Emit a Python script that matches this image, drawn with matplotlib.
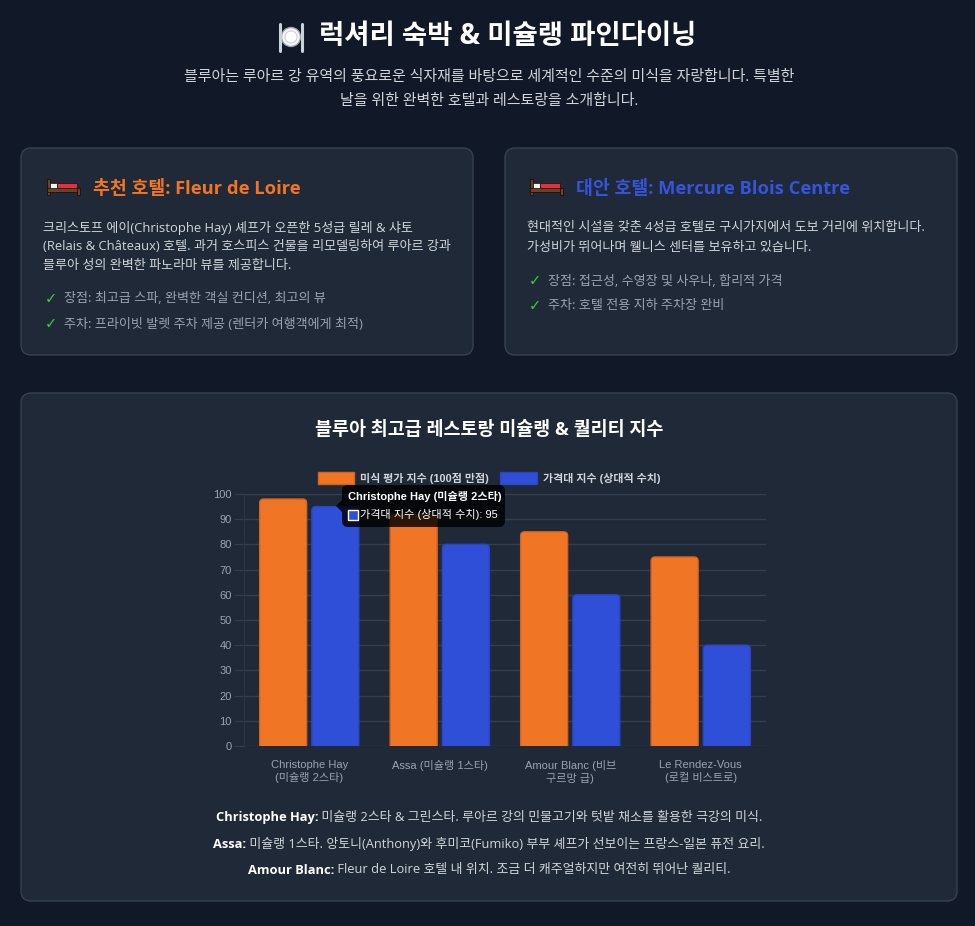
import matplotlib
matplotlib.use("Agg")
import matplotlib.pyplot as plt
from matplotlib.patches import FancyBboxPatch, Rectangle, Circle, Polygon
import numpy as np

# ---------------- data ----------------
restaurants = ["Christophe Hay\n(미슐랭 2스타)", "Assa (미슐랭 1스타)",
               "Amour Blanc (비브\n구르망 급)", "Le Rendez-Vous\n(로컬 비스트로)"]
series_names = ["미식 평가 지수 (100점 만점)", "가격대 지수 (상대적 수치)"]
gastronomy_index = [98, 92, 85, 75]
price_index = [95, 80, 60, 40]
y_ticks = [0, 10, 20, 30, 40, 50, 60, 70, 80, 90, 100]

page_title = "럭셔리 숙박 & 미슐랭 파인다이닝"
page_subtitle = ["블루아는 루아르 강 유역의 풍요로운 식자재를 바탕으로 세계적인 수준의 미식을 자랑합니다. 특별한",
                 "날을 위한 완벽한 호텔과 레스토랑을 소개합니다."]
hotel1_title = "추천 호텔: Fleur de Loire"
hotel1_body = ["크리스토프 에이(Christophe Hay) 셰프가 오픈한 5성급 릴레 & 샤토",
               "(Relais & Châteaux) 호텔. 과거 호스피스 건물을 리모델링하여 루아르 강과",
               "블루아 성의 완벽한 파노라마 뷰를 제공합니다."]
hotel1_items = ["장점: 최고급 스파, 완벽한 객실 컨디션, 최고의 뷰",
                "주차: 프라이빗 발렛 주차 제공 (렌터카 여행객에게 최적)"]
hotel2_title = "대안 호텔: Mercure Blois Centre"
hotel2_body = ["현대적인 시설을 갖춘 4성급 호텔로 구시가지에서 도보 거리에 위치합니다.",
               "가성비가 뛰어나며 웰니스 센터를 보유하고 있습니다."]
hotel2_items = ["장점: 접근성, 수영장 및 사우나, 합리적 가격",
                "주차: 호텔 전용 지하 주차장 완비"]
chart_title = "블루아 최고급 레스토랑 미슐랭 & 퀄리티 지수"
tooltip_title = "Christophe Hay (미슐랭 2스타)"
notes = [("Christophe Hay:", " 미슐랭 2스타 & 그린스타. 루아르 강의 민물고기와 텃밭 채소를 활용한 극강의 미식."),
         ("Assa:", " 미슐랭 1스타. 앙토니(Anthony)와 후미코(Fumiko) 부부 셰프가 선보이는 프랑스-일본 퓨전 요리."),
         ("Amour Blanc:", " Fleur de Loire 호텔 내 위치. 조금 더 캐주얼하지만 여전히 뛰어난 퀄리티.")]

# ---------------- style ----------------
BG = "#111827"
CARD = "#1f2937"
CARD_EDGE = "#374151"
ORANGE = "#f07626"
ORANGE_EDGE = "#d8641c"
BLUE = "#2f4fd8"
BLUE_EDGE = "#2a46c4"
KR = ["Open Sans", "Noto Sans CJK KR", "DejaVu Sans"]
AR = ["Liberation Sans", "Noto Sans CJK KR", "DejaVu Sans"]

W, H = 975, 926
fig = plt.figure(figsize=(W / 100, H / 100), dpi=100, facecolor=BG)

bg = fig.add_axes([0, 0, 1, 1], zorder=0)
bg.set_xlim(0, W); bg.set_ylim(H, 0); bg.axis("off")
bg.set_facecolor(BG)


def card(ax, x0, y0, x1, y1):
    ax.add_patch(FancyBboxPatch((x0, y0), x1 - x0, y1 - y0,
                                boxstyle="round,pad=0,rounding_size=10",
                                facecolor=CARD, edgecolor=CARD_EDGE, linewidth=1))


def bed(ax, x, y):
    # simple bed icon, x,y = left-top
    ax.add_patch(Rectangle((x, y - 4), 3, 16, facecolor="#6b4226", edgecolor="#1a0f08", lw=0.6))
    ax.add_patch(Rectangle((x, y + 5), 33, 4, facecolor="#6b4226", edgecolor="#1a0f08", lw=0.6))
    ax.add_patch(Rectangle((x + 30, y + 5), 3, 7, facecolor="#6b4226", edgecolor="#1a0f08", lw=0.6))
    ax.add_patch(Rectangle((x + 3, y), 7, 5, facecolor="#f3f3f3", edgecolor="#1a0f08", lw=0.5))
    ax.add_patch(Rectangle((x + 10, y), 20, 5, facecolor="#e0323c", edgecolor="#1a0f08", lw=0.5))


# ---- header ----
bg.add_patch(Circle((291, 37), 9.5, facecolor="#f5f5f5", edgecolor="#9aa3ad", lw=1.0))
bg.add_patch(Circle((291, 37), 6, facecolor="#ffffff", edgecolor="#d0d4d8", lw=0.8))
bg.plot([280, 280], [24, 51], color="#c9d1d9", lw=2.2, solid_capstyle="round")
bg.plot([302, 302], [24, 51], color="#c9d1d9", lw=2.2, solid_capstyle="round")
bg.text(319, 37, page_title, fontsize=19.8, fontweight="bold", color="white",
        family=KR, ha="left", va="center")
bg.text(489, 78, page_subtitle[0], fontsize=10.8, color="#d1d5db", family=KR, ha="center", va="center")
bg.text(489, 101, page_subtitle[1], fontsize=10.8, color="#d1d5db", family=KR, ha="center", va="center")

# ---- hotel cards ----
card(bg, 21, 148, 473, 355)
card(bg, 505, 148, 957, 355)
bed(bg, 47, 183)
bed(bg, 530, 183)
bg.text(93, 189, hotel1_title, fontsize=13.2, fontweight="bold", color="#f07626", family=KR,
        ha="left", va="center")
bg.text(576, 189, hotel2_title, fontsize=13.2, fontweight="bold", color="#3554d9", family=KR,
        ha="left", va="center")
for i, line in enumerate(hotel1_body):
    bg.text(43, 228 + i * 19, line, fontsize=9.4, color="#d1d5db", family=KR, ha="left", va="center")
for i, line in enumerate(hotel1_items):
    bg.text(45, 299 + i * 25, "✓", fontsize=10.5, color="#3cc93c", family=["DejaVu Sans"],
            ha="left", va="center", fontweight="bold")
    bg.text(64, 299 + i * 25, line, fontsize=9.4, color="#9ca3af", family=KR, ha="left", va="center")
for i, line in enumerate(hotel2_body):
    bg.text(527, 228 + i * 19, line, fontsize=9.4, color="#d1d5db", family=KR, ha="left", va="center")
for i, line in enumerate(hotel2_items):
    bg.text(529, 281 + i * 25, "✓", fontsize=10.5, color="#3cc93c", family=["DejaVu Sans"],
            ha="left", va="center", fontweight="bold")
    bg.text(548, 281 + i * 25, line, fontsize=9.4, color="#9ca3af", family=KR, ha="left", va="center")

# ---- chart card ----
card(bg, 21, 393, 957, 901)
bg.text(489, 430, chart_title, fontsize=13.3, fontweight="bold", color="white", family=KR,
        ha="center", va="center")

# ---- chart axes ----
px0, px1, py0, py1 = 244, 766, 494, 746
ax = fig.add_axes([px0 / W, 1 - py1 / H, (px1 - px0) / W, (py1 - py0) / H], zorder=1)
ax.set_facecolor("none")
x = np.arange(len(restaurants))
bw = 0.36
ax.set_xlim(-0.5, len(restaurants) - 0.5)
ax.set_ylim(0, 100)

# pixel -> data scale factors for rounded corners
x_per_px = (len(restaurants)) / (px1 - px0)
y_per_px = 100 / (py1 - py0)
radius_px = 4


def rounded_bars(container, face, edge):
    for rect in container.patches:
        rect.set_visible(False)
        x0, w, h = rect.get_x(), rect.get_width(), rect.get_height()
        extra = 2 * radius_px * y_per_px  # push rounded bottom below the axis (clipped)
        p = FancyBboxPatch((x0, -extra), w, h + extra,
                           boxstyle=f"round,pad=0,rounding_size={radius_px * x_per_px}",
                           mutation_aspect=y_per_px / x_per_px,
                           facecolor=face, edgecolor=edge, linewidth=1, zorder=3)
        ax.add_patch(p)
        p.set_clip_path(ax.patch)


b1 = ax.bar(x - 0.2, gastronomy_index, width=bw, color=ORANGE, edgecolor=ORANGE_EDGE, linewidth=1, zorder=3)
b2 = ax.bar(x + 0.2, price_index, width=bw, color=BLUE, edgecolor=BLUE_EDGE, linewidth=1, zorder=3)
rounded_bars(b1, ORANGE, ORANGE_EDGE)
rounded_bars(b2, BLUE, BLUE_EDGE)

ax.set_yticks(y_ticks)
ax.set_yticklabels([str(v) for v in y_ticks], family=AR, fontsize=8, color="#9ca3af")
ax.yaxis.grid(True, color="#343e4e", linewidth=1, zorder=0)
ax.set_axisbelow(True)
ax.tick_params(axis="y", length=7, color="#343e4e", pad=2)
ax.set_xticks(x)
ax.set_xticklabels(restaurants, family=AR, fontsize=8, color="#9ca3af", linespacing=1.25)
ax.tick_params(axis="x", length=0, pad=10)
for s in ["top", "right", "bottom"]:
    ax.spines[s].set_visible(False)
ax.spines["left"].set_color("#2b3545")

# ---- overlay: legend + tooltip ----
ov = fig.add_axes([0, 0, 1, 1], zorder=3)
ov.set_xlim(0, W); ov.set_ylim(H, 0); ov.axis("off"); ov.set_facecolor("none")
ov.add_patch(Rectangle((318, 472), 36, 12, facecolor=ORANGE, edgecolor=ORANGE_EDGE, lw=1))
ov.text(360, 478.5, series_names[0], fontsize=7.9, fontweight="bold", color="#d1d5db", family=AR,
        ha="left", va="center")
ov.add_patch(Rectangle((500, 472), 37, 12, facecolor=BLUE, edgecolor=BLUE_EDGE, lw=1))
ov.text(543, 478.5, series_names[1], fontsize=7.9, fontweight="bold", color="#d1d5db", family=AR,
        ha="left", va="center")

ov.add_patch(FancyBboxPatch((342, 485), 163, 42, boxstyle="round,pad=0,rounding_size=6",
                            facecolor=(0, 0, 0, 0.82), edgecolor="none"))
ov.add_patch(Polygon([(342, 500), (336, 506), (342, 512)], closed=True,
                     facecolor=(0, 0, 0, 0.82), edgecolor="none"))
ov.text(348, 496, tooltip_title, fontsize=8, fontweight="bold", color="white", family=AR,
        ha="left", va="center")
ov.add_patch(Rectangle((347.5, 510), 10, 10, facecolor=BLUE, edgecolor="white", lw=1))
ov.text(360, 515, f"{series_names[1]}: {price_index[0]}", fontsize=8, color="white", family=AR,
        ha="left", va="center")

# ---- notes under chart ----
fig.canvas.draw()
renderer = fig.canvas.get_renderer()
for i, (name, rest) in enumerate(notes):
    yy = 818 + i * 26
    t1 = bg.text(0, yy, name, fontsize=9.3, fontweight="bold", color="white", family=KR,
                 ha="left", va="center")
    t2 = bg.text(0, yy, rest, fontsize=9.3, color="#d1d5db", family=KR, ha="left", va="center")
    w1 = t1.get_window_extent(renderer).width
    w2 = t2.get_window_extent(renderer).width
    start = 489 - (w1 + w2) / 2
    t1.set_x(start)
    t2.set_x(start + w1)

fig.savefig("out.png", dpi=100, facecolor=BG)
